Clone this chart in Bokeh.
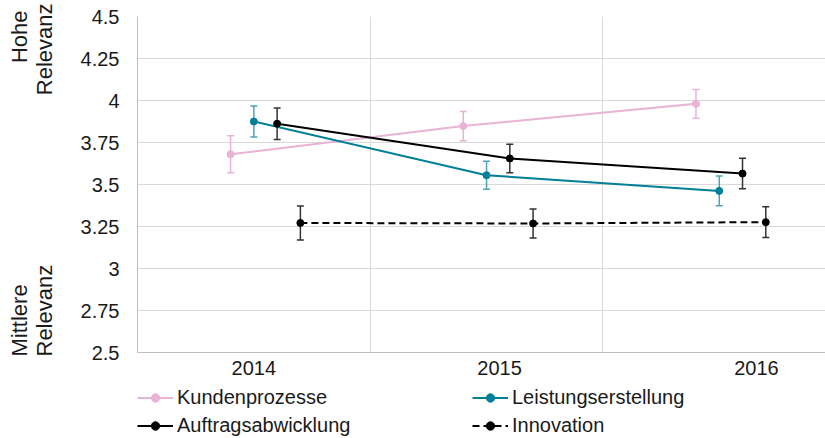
import math
from bokeh.plotting import figure
from bokeh.layouts import column, row
from bokeh.models import (ColumnDataSource, Whisker, TeeHead, FixedTicker, Legend,
                          LegendItem, Label, Range1d, CustomJSTickFormatter)
from bokeh.embed import file_html
from bokeh.resources import INLINE

# ---- data ----
years = ["2014", "2015", "2016"]
y_ticks = [2.5, 2.75, 3.0, 3.25, 3.5, 3.75, 4.0, 4.25, 4.5]

kundenprozesse = [3.68, 3.848, 3.98]
kundenprozesse_err = [0.11, 0.087, 0.086]
leistungserstellung = [3.875, 3.555, 3.462]
leistungserstellung_err = [0.093, 0.083, 0.089]
auftragsabwicklung = [3.862, 3.655, 3.565]
auftragsabwicklung_err = [0.094, 0.085, 0.091]
innovation = [3.271, 3.268, 3.276]
innovation_err = [0.101, 0.086, 0.092]

names = ["Kundenprozesse", "Leistungserstellung", "Auftragsabwicklung", "Innovation"]

# ---- styling / layout ----
FONT = "Liberation Sans"
FS = "20px"
TXT = "#1a1a1a"
GRID = "#d9d9d9"
AXIS = "#bfbfbf"
series_style = [
    dict(color="#e8b3d6", err_color="#e8b3d6", dash="solid", offset=-0.1),
    dict(color="#007f99", err_color="#4ea3b8", dash="solid", offset=0.0),
    dict(color="#000000", err_color="#333333", dash="solid", offset=0.1),
    dict(color="#000000", err_color="#333333", dash="7 4", offset=0.2),
]
year_label_shift = [0.0, 0.056, 0.16]
legend_order = [0, 2, 1, 3]  # fills column by column
W, H = 825, 438
STRIP_W = 60
MAIN_H = 386

def blank(fig):
    fig.outline_line_color = None
    fig.background_fill_color = "white"
    fig.border_fill_color = "white"

p = figure(width=W - STRIP_W, height=MAIN_H, x_range=Range1d(-0.5, 2.4566),
           y_range=Range1d(2.5, 4.5), output_backend="svg", toolbar_location=None,
           min_border_left=137 - STRIP_W, min_border_right=0, min_border_top=16,
           min_border_bottom=34)
blank(p)

# grids
p.xgrid.ticker = FixedTicker(ticks=[0.5, 1.5])
p.xgrid.grid_line_color = GRID
p.ygrid.ticker = FixedTicker(ticks=y_ticks[1:])
p.ygrid.grid_line_color = GRID

# axes
p.yaxis.ticker = FixedTicker(ticks=y_ticks)
p.yaxis.formatter = CustomJSTickFormatter(code="return tick.toString();")
p.yaxis.axis_line_color = AXIS
p.yaxis.major_tick_line_color = None
p.yaxis.minor_tick_line_color = None
p.yaxis.major_tick_out = 0
p.yaxis.major_label_standoff = 18
p.yaxis.major_label_text_font = FONT
p.yaxis.major_label_text_font_size = FS
p.yaxis.major_label_text_color = TXT

xt = [i + s for i, s in enumerate(year_label_shift)]
p.xaxis.ticker = FixedTicker(ticks=xt)
p.xaxis.major_label_overrides = {t: y for t, y in zip(xt, years)}
p.xaxis.axis_line_color = AXIS
p.xaxis.major_tick_line_color = None
p.xaxis.minor_tick_line_color = None
p.xaxis.major_tick_out = 0
p.xaxis.major_label_standoff = 8
p.xaxis.major_label_text_font = FONT
p.xaxis.major_label_text_font_size = FS
p.xaxis.major_label_text_color = TXT

values = [kundenprozesse, leistungserstellung, auftragsabwicklung, innovation]
errs = [kundenprozesse_err, leistungserstellung_err, auftragsabwicklung_err, innovation_err]

for name, vals, er, st in zip(names, values, errs, series_style):
    src = ColumnDataSource(dict(
        x=[i + st["offset"] for i in range(len(years))],
        y=vals,
        upper=[v + e for v, e in zip(vals, er)],
        lower=[v - e for v, e in zip(vals, er)],
    ))
    w = Whisker(source=src, base="x", upper="upper", lower="lower",
                line_color=st["err_color"], line_width=1.5,
                upper_head=TeeHead(size=7, line_color=st["err_color"], line_width=1.5),
                lower_head=TeeHead(size=7, line_color=st["err_color"], line_width=1.5))
    p.add_layout(w)
    p.line("x", "y", source=src, line_color=st["color"], line_width=2, line_dash=st["dash"])
    p.scatter("x", "y", source=src, size=7, fill_color=st["color"], line_color=st["color"])

# ---- legend strip below the chart ----
lg = figure(width=W - STRIP_W, height=H - MAIN_H, x_range=Range1d(0, 1), y_range=Range1d(0, 1),
            output_backend="svg", toolbar_location=None, x_axis_type=None, y_axis_type=None,
            min_border_left=137 - STRIP_W, min_border_right=0, min_border_top=0, min_border_bottom=0)
lg.grid.visible = False
blank(lg)

items = []
for k in legend_order:
    st = series_style[k]
    dummy = ColumnDataSource(dict(x=[5], y=[5]))  # outside the visible range
    ln = lg.line("x", "y", source=dummy, line_color=st["color"], line_width=2, line_dash=st["dash"])
    sc = lg.scatter("x", "y", source=dummy, size=5, fill_color=st["color"], line_color=st["color"])
    items.append(LegendItem(label=names[k], renderers=[ln, sc]))

legend = Legend(items=items, ncols=2, location="top_left",
                glyph_width=36, glyph_height=21, label_height=21, label_width=290,
                label_standoff=4, spacing=5, padding=0, margin=0,
                border_line_color=None, background_fill_alpha=0,
                label_text_font=FONT, label_text_font_size=FS, label_text_color=TXT)
lg.add_layout(legend)

# ---- full-height left strip with the rotated relevance labels ----
strip = figure(width=STRIP_W, height=H, x_range=Range1d(0, 1), y_range=Range1d(0, 1),
               output_backend="svg", toolbar_location=None, x_axis_type=None, y_axis_type=None,
               min_border_left=0, min_border_right=0, min_border_top=0, min_border_bottom=0)
strip.grid.visible = False
blank(strip)

def rlabel(text, x, y, align):
    strip.add_layout(Label(x=x, y=y, x_units="screen", y_units="screen", text=text,
                           angle=math.pi / 2, text_align=align, text_baseline="middle",
                           text_font=FONT, text_font_size="22px", text_color=TXT))

rlabel("Hohe", 19, H - 10, "right")
rlabel("Relevanz", 44, H - 3, "right")
rlabel("Mittlere", 19, H - 356, "left")
rlabel("Relevanz", 44, H - 356, "left")

layout = row(strip, column(p, lg, spacing=0), spacing=0)
open("out.html", "w").write(file_html(layout, INLINE))
